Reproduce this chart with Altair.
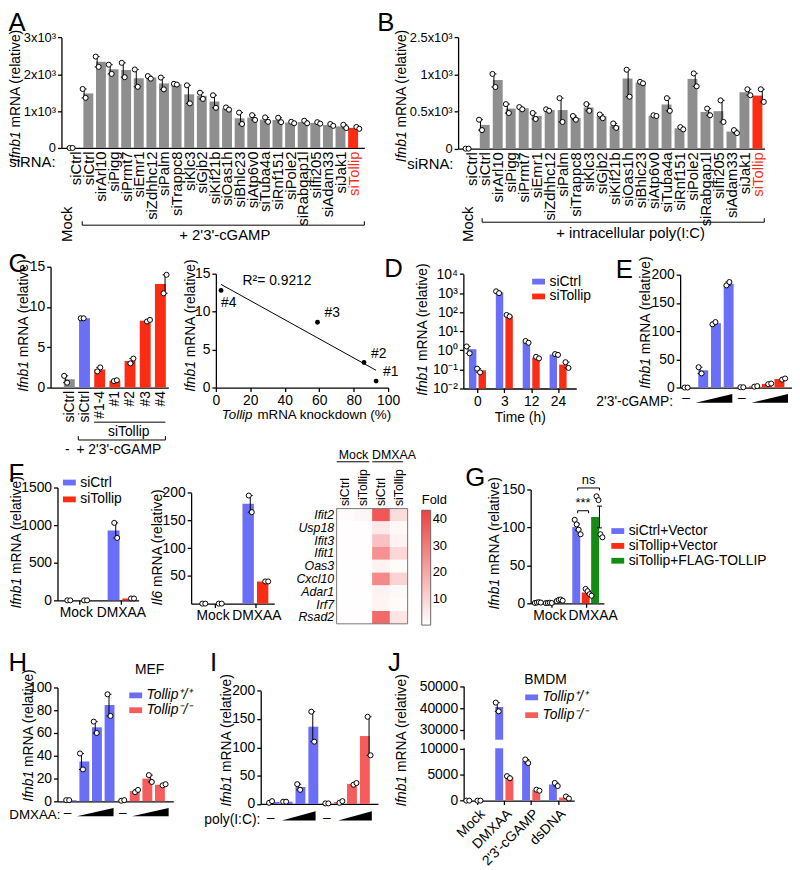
import json
import altair as alt
import pandas as pd

FONT = "Liberation Sans"
W, H = 792, 862
MARGIN = 8

BLUE = "#6b6ff5"
RED = "#fb2c14"
RED_LT = "#f65c5c"
GREEN = "#148c14"
GRAY = "#8e8e8e"
HEAT = ["#ffffff", "#ef3f3f"]
SWATCH = "M-1,-0.45L1,-0.45L1,0.45L-1,0.45Z"

# ---------------- data ----------------
# A: + 2'3'-cGAMP screen
a_names = ["siCtrl", "siCtrl", "sirArl10", "siPigg", "siPrmt7", "siEmr1", "siZdhhc12", "siPalm",
           "siTrappc8", "siKlc3", "siGjb2", "siKif21b", "siOas1h", "siBhlc23", "siAtp6v0", "siTuba4a",
           "siRnf151", "siPole2", "siRabgap1l", "siIfi205", "siAdam33", "siJak1", "siTollip"]
a_rep1 = [0, 1600, 2480, 2260, 2310, 2130, 1950, 1910, 1740, 1700, 1500, 1430, 1100, 960, 890, 830,
          820, 710, 740, 700, 650, 630, 570]
a_rep2 = [0, 1360, 2200, 2010, 1920, 1660, 1880, 1590, 1720, 1210, 1330, 1090, 1040, 650, 760, 710,
          700, 670, 670, 660, 600, 540, 520]
# B: + intracellular poly(I:C)
b_rep1 = [0, 390, 1020, 600, 560, 480, 530, 680, 440, 600, 460, 340, 1190, 900, 450, 680, 290, 1040,
          540, 650, 250, 800, 800]
b_rep2 = [0, 250, 830, 480, 530, 400, 510, 360, 390, 510, 410, 280, 700, 880, 440, 510, 260, 840,
          450, 360, 210, 720, 630]
# C
c_names = ["siCtrl", "siCtrl", "#1-4", "#1", "#2", "#3", "#4"]
c_rep1 = [1.45, 8.6, 2.0, 0.8, 3.0, 8.2, 11.7]
c_rep2 = [0.6, 8.6, 2.5, 0.9, 3.6, 8.4, 14.0]
kd_labels = ["#1", "#2", "#3", "#4"]
kd_pct = [93, 86, 59, 3]
kd_ifnb = [0.85, 3.3, 8.6, 12.8]
# D
d_times = ["0", "3", "12", "24"]
d_ctrl = [[1.6, 1250, 3.1, 0.64], [0.7, 1000, 2.5, 0.58]]
d_toll = [[0.11, 72, 0.46, 0.24], [0.07, 60, 0.38, 0.12]]
# E
e_ctrl = [[0, 36, 112, 181], [0, 25, 116, 187]]
e_toll = [[0.5, 1.5, 6, 14], [0.5, 2.5, 7, 16]]
# F
f_groups = ["Mock", "DMXAA"]
f_series = ["siCtrl", "siTollip"]
f1_ctrl = [[0, 1030], [0, 830]]
f1_toll = [[0, 25], [0, 25]]
f2_ctrl = [[0, 195], [0, 165]]
f2_toll = [[0, 40], [0, 40]]
hm_genes = ["Ifit2", "Usp18", "Ifit3", "Ifit1", "Oas3", "Cxcl10", "Adar1", "Irf7", "Rsad2"]
hm_cols = ["siCtrl", "siTollip", "siCtrl", "siTollip"]
hm_fold = [[1.0, 2.0, 38, 8], [0.5, 0.5, 5, 1.5], [0.5, 0.5, 14, 3], [0.5, 0.5, 25, 9], [0.3, 0.3, 3, 1],
           [0.5, 0.5, 27, 10], [0.3, 0.3, 3, 1.5], [0.3, 0.3, 2.5, 1], [0.5, 0.5, 34, 6]]
# G
g_series = ["siCtrl+Vector", "siTollip+Vector", "siTollip+FLAG-TOLLIP"]
g_ctrl = [[0.5, 110], [1.0, 104], [1.5, 97], [1.0, 91]]
g_toll = [[0.3, 19], [0.5, 16], [0.8, 12], [0.4, 10]]
g_flag = [[3, 141], [4.5, 136], [5, 91], [3.5, 87]]
g_sig = ["***", "ns"]
g_sig_y = [122, 152]
# H, I, J
geno = ["Tollip⁺/⁺", "Tollip⁻/⁻"]
h_wt = [[1, 42, 70, 94], [1, 28, 60, 75]]
h_ko = [[0.5, 8, 23, 14], [1, 10, 17, 15]]
i_wt = [[2, 4, 35, 163], [5, 4, 25, 110]]
i_ko = [[1, 2, 34, 154], [1, 5, 37, 86]]
j_groups = ["Mock", "DMXAA", "2'3'-cGAMP", "dsDNA"]
j_wt = [[0, 42500, 7900, 3400], [0, 38500, 7200, 2800]]
j_ko = [[0, 4700, 2100, 800], [0, 4300, 1900, 400]]

# ---------------- helpers ----------------
CW = {" ": 278, "(": 333, ")": 333, "%": 889, "'": 191, "-": 333, "+": 584, ":": 278,
      "A": 667, "F": 611, "I": 278, "M": 833, "N": 722, "R": 722, "T": 611,
      "a": 556, "b": 556, "c": 500, "d": 556, "e": 556, "f": 278, "i": 222, "k": 500, "l": 222,
      "n": 556, "o": 556, "p": 556, "r": 333, "t": 278, "v": 500, "w": 722}

AX = dict(labelFontSize=14, labelFont=FONT, labelColor="black", domainColor="black", domainWidth=1.3,
          tickColor="black", tickWidth=1.3, tickSize=4, labelPadding=2, labelOverlap=False,
          labelFlush=False, labelBound=False, grid=False, titleFont=FONT, titleFontSize=14,
          titleFontWeight="normal", titleColor="black")


def tw(s, size):
    return sum(CW.get(ch, 556) for ch in s) * size / 1000.0


def P(v):
    return v - MARGIN


def names_expr(names):
    return f"{json.dumps(names)}[round(datum.value)]"


def xaxis(y_page, **kw):
    opts = dict(AX)
    opts["title"] = None
    opts.update(kw)
    return alt.Axis(orient="bottom", offset=P(y_page) - H, **opts)


def yaxis(x_page, **kw):
    opts = dict(AX)
    opts["title"] = None
    opts["format"] = "d"
    opts.update(kw)
    return alt.Axis(orient="left", offset=-P(x_page), **opts)


def lin(dom, rng):
    return alt.Scale(domain=dom, range=[P(v) for v in rng], nice=False, zero=False)


def long_df(defs):
    rows = []
    for name, positions, reps in defs:
        for r, vals in enumerate(reps):
            for p, v in zip(positions, vals):
                rows.append({"pos": p, "series": name, "value": v, "rep": r})
    return pd.DataFrame(rows)


def legend(x, y, rowpad=1, italic=False):
    return alt.Legend(orient="none", legendX=P(x), legendY=P(y), title=None, symbolType=SWATCH,
                      symbolSize=169, symbolStrokeWidth=0, labelFontSize=14, labelFont=FONT,
                      labelColor="black", rowPadding=rowpad, labelOffset=4, padding=0,
                      labelFontStyle="italic" if italic else "normal")


def bar_layers(df, xs, ys, xax, yax, cdom, crng, bar_w, xdom, xpage, leg=None, ybase=None,
               jit_px=3.0, pt=26):
    ppu = (xpage[1] - xpage[0]) / (xdom[1] - xdom[0])
    d = df.copy()
    n = d.groupby("pos")["rep"].transform("max") + 1
    d["px"] = d["pos"] + (d["rep"] - (n - 1) / 2) * (jit_px / ppu)
    base = alt.Chart(d)
    bars = base.transform_aggregate(m="mean(value)", groupby=["pos", "series"]).mark_bar(size=bar_w).encode(
        x=alt.X("pos:Q", scale=xs, axis=xax),
        y=alt.Y("m:Q", scale=ys, axis=yax, stack=None),
        color=alt.Color("series:N", scale=alt.Scale(domain=cdom, range=crng), legend=leg),
    )
    if ybase is not None:
        bars = bars.encode(y2=alt.datum(ybase))
    err = base.transform_aggregate(m="mean(value)", s="stderr(value)", groupby=["pos"]).transform_calculate(
        lo="datum.m - datum.s", hi="datum.m + datum.s")
    X0 = alt.X("pos:Q", scale=xs, axis=None)
    rule = err.mark_rule(color="black", strokeWidth=1).encode(
        x=X0, y=alt.Y("lo:Q", scale=ys, axis=None), y2="hi:Q")
    caps = err.transform_fold(["lo", "hi"], as_=["k", "v"]).mark_point(
        shape="M-1,0L1,0", size=25, color="black", filled=False, strokeWidth=1, opacity=1).encode(
        x=X0, y=alt.Y("v:Q", scale=ys, axis=None))
    pts = base.mark_point(shape="circle", size=pt, fill="white", stroke="black", strokeWidth=1,
                          opacity=1, fillOpacity=1).encode(
        x=alt.X("px:Q", scale=xs, axis=None), y=alt.Y("value:Q", scale=ys, axis=None))
    return [bars, rule, caps, pts]


def dose_layers(xs, dash_pos, wedge_pos, y_dash, y_wedge, w_px, h_px):
    r = h_px / w_px
    dash = alt.Chart(pd.DataFrame({"pos": dash_pos, "t": ["–"] * len(dash_pos)})).mark_text(
        fontSize=14, color="black").encode(
        x=alt.X("pos:Q", scale=xs, axis=None), y=alt.value(P(y_dash)), text="t:N")
    wedge = alt.Chart(pd.DataFrame({"pos": wedge_pos})).mark_point(
        shape=f"M-1,{r:.3f}L1,{r:.3f}L1,{-r:.3f}Z", size=w_px ** 2, filled=True, color="black",
        opacity=1, strokeWidth=0).encode(x=alt.X("pos:Q", scale=xs, axis=None), y=alt.value(P(y_wedge)))
    return [dash, wedge]


ANN = []


def txt(s, x, y, size=14, align="center", baseline="middle", angle=0, italic=False, color="black"):
    kw = dict(align=align, baseline=baseline, fontSize=size, color=color, font=FONT,
              fontStyle="italic" if italic else "normal")
    if angle:
        kw["angle"] = angle
    ANN.append(alt.Chart(pd.DataFrame({"t": [s]})).mark_text(**kw).encode(
        x=alt.value(P(x)), y=alt.value(P(y)), text="t:N"))


def seg(x1, y1, x2, y2, w=1):
    ANN.append(alt.Chart(pd.DataFrame({"t": [0]})).mark_rule(color="black", strokeWidth=w).encode(
        x=alt.value(P(x1)), y=alt.value(P(y1)), x2=alt.value(P(x2)), y2=alt.value(P(y2))))


def ytitle(parts, xc, yc, size=14):
    widths = [tw(t, size) for t, _ in parts]
    sp = tw(" ", size)
    total = sum(widths) + sp * (len(parts) - 1)
    y = yc + total / 2
    for (t, it), w in zip(parts, widths):
        txt(t, xc, y, size=size, align="left", angle=270, italic=it)
        y -= w + sp


def xtitle(parts, xc, yc, size=14):
    widths = [tw(t, size) for t, _ in parts]
    sp = tw(" ", size)
    total = sum(widths) + sp * (len(parts) - 1)
    x = xc - total / 2
    for (t, it), w in zip(parts, widths):
        txt(t, x, yc, size=size, align="left", italic=it)
        x += w + sp


IFNB = [("Ifnb1", True), ("mRNA (relative)", False)]
SCI = "datum.value == 0 ? '0' : (datum.value / 1000) + 'x10³'"
PANELS = []

# ---------------- A ----------------
xd, xp = [-0.74, 22.5], [62, 368]
xs, ys = lin(xd, xp), lin([0, 3000], [145, 33.3])
n_a = len(a_names)
df = long_df([("ctrl", list(range(n_a - 1)), [a_rep1[:-1], a_rep2[:-1]]),
              ("hit", [n_a - 1], [a_rep1[-1:], a_rep2[-1:]])])
xax = xaxis(145, values=list(range(n_a)), labelExpr=names_expr(a_names), labelAngle=-90,
            labelAlign="right", labelBaseline="middle", ticks=False, labelPadding=3, labelFontSize=15,
            labelColor={"condition": {"test": f"datum.value == {n_a - 1}", "value": RED}, "value": "black"})
yax = yaxis(62, values=[0, 1000, 2000, 3000], labelExpr=SCI, labelFontSize=13)
PANELS += bar_layers(df, xs, ys, xax, yax, ["ctrl", "hit"], [GRAY, RED], 10, xd, xp)

# ---------------- B ----------------
xd, xp = [-0.67, 22.17], [462.7, 772.3]
xs = lin(xd, xp)
ys = lin([0, 1000, 2500], [145.7, 70.7, 33.3])
df = long_df([("ctrl", list(range(n_a - 1)), [b_rep1[:-1], b_rep2[:-1]]),
              ("hit", [n_a - 1], [b_rep1[-1:], b_rep2[-1:]])])
xax = xaxis(145.7, values=list(range(n_a)), labelExpr=names_expr(a_names), labelAngle=-90,
            labelAlign="right", labelBaseline="middle", ticks=False, labelPadding=3, labelFontSize=15,
            labelColor={"condition": {"test": f"datum.value == {n_a - 1}", "value": RED}, "value": "black"})
yax = yaxis(462.7, values=[0, 500, 1000, 2500], labelExpr=SCI, labelFontSize=13)
PANELS += bar_layers(df, xs, ys, xax, yax, ["ctrl", "hit"], [GRAY, RED], 10, xd, xp)

# ---------------- C (bars) ----------------
xd, xp = [-0.91, 6.2], [51, 170]
xs, ys = lin(xd, xp), lin([0, 15], [387, 265])
df = long_df([("mock", [0], [c_rep1[:1], c_rep2[:1]]), ("ctrl", [1], [c_rep1[1:2], c_rep2[1:2]]),
              ("kd", [2, 3, 4, 5, 6], [c_rep1[2:], c_rep2[2:]])])
xax = xaxis(387, values=list(range(len(c_names))), labelExpr=names_expr(c_names), labelAngle=-90,
            labelAlign="right", labelBaseline="middle", ticks=False, labelPadding=3)
yax = yaxis(51, values=[0, 5, 10, 15])
PANELS += bar_layers(df, xs, ys, xax, yax, ["mock", "ctrl", "kd"], [GRAY, BLUE, RED], 11, xd, xp)

# ---------------- C (scatter) ----------------
xs, ys = lin([0, 100], [218, 392]), lin([0, 15], [387, 272])
kd_df = pd.DataFrame({"kd": kd_pct, "val": kd_ifnb, "lab": kd_labels})
reg = alt.Chart(kd_df).transform_regression("kd", "val").mark_line(color="black", strokeWidth=1).encode(
    x=alt.X("kd:Q", scale=xs, axis=xaxis(387, values=[0, 20, 40, 60, 80, 100])),
    y=alt.Y("val:Q", scale=ys, axis=yaxis(218, values=[0, 5, 10, 15])))
kd_pts = alt.Chart(kd_df).mark_circle(size=24, color="black", opacity=1).encode(
    x=alt.X("kd:Q", scale=xs, axis=None), y=alt.Y("val:Q", scale=ys, axis=None))
kd_lab_hi = alt.Chart(kd_df).transform_filter("datum.kd > 10").mark_text(
    align="left", fontSize=14, font=FONT, dx=7, dy=-9).encode(
    x=alt.X("kd:Q", scale=xs, axis=None), y=alt.Y("val:Q", scale=ys, axis=None), text="lab:N")
kd_lab_lo = alt.Chart(kd_df).transform_filter("datum.kd <= 10").mark_text(
    align="left", fontSize=14, font=FONT, dx=0, dy=13).encode(
    x=alt.X("kd:Q", scale=xs, axis=None), y=alt.Y("val:Q", scale=ys, axis=None), text="lab:N")
PANELS += [reg, kd_pts, kd_lab_hi, kd_lab_lo]

# ---------------- D ----------------
xd, xp = [-0.34, 3.49], [468, 582]
xs = lin(xd, xp)
ys = alt.Scale(type="log", domain=[0.01, 10000], range=[P(388), P(272.4)], nice=False)
off = 0.178
df = long_df([("siCtrl", [g - off for g in range(4)], d_ctrl), ("siTollip", [g + off for g in range(4)], d_toll)])
xax = xaxis(388, values=[0, 1, 2, 3], labelExpr=names_expr(d_times), title="Time (h)", titlePadding=2)
yax = yaxis(468, values=[0.01, 0.1, 1, 10, 100, 1000, 10000],
            labelExpr="'10' + ['⁻²','⁻¹','⁰','¹','²','³','⁴'][round(log(datum.value) / LN10) + 2]")
PANELS += bar_layers(df, xs, ys, xax, yax, f_series, [BLUE, RED], 7.5, xd, xp,
                     leg=legend(537, 273), ybase=0.01)

# ---------------- E ----------------
xd, xp = [-0.43, 7.6], [687, 800]
xs, ys = lin(xd, xp), lin([0, 200], [387, 273])
df = long_df([("siCtrl", [0, 1, 2, 3], e_ctrl), ("siTollip", [4, 5, 6, 7], e_toll)])
xax = xaxis(387, labels=False, ticks=False)
yax = yaxis(687, values=[0, 50, 100, 150, 200])
PANELS += bar_layers(df, xs, ys, xax, yax, f_series, [BLUE, RED], 10, xd, xp)
PANELS += dose_layers(xs, [0, 4], [2, 6], 398, 398, 37, 9)

# ---------------- F (Ifnb1) ----------------
xd, xp = [-0.42, 1.31], [58, 140]
xs, ys = lin(xd, xp), lin([0, 1500], [602, 488])
off = 0.179
df = long_df([("siCtrl", [-off, 1 - off], f1_ctrl), ("siTollip", [off, 1 + off], f1_toll)])
xax = xaxis(602, values=[0, 1], labelExpr=names_expr(f_groups), labelPadding=1,
            labelOffset={"condition": {"test": "datum.value == 0", "value": -4}, "value": 0})
yax = yaxis(58, values=[0, 500, 1000, 1500])
PANELS += bar_layers(df, xs, ys, xax, yax, f_series, [BLUE, RED], 12, xd, xp,
                     leg=legend(63, 476, rowpad=3))

# ---------------- F (Il6) ----------------
xd, xp = [-0.45, 1.34], [193, 277]
xs, ys = lin(xd, xp), lin([0, 200], [605.3, 493.3])
off = 0.177
df = long_df([("siCtrl", [-off, 1 - off], f2_ctrl), ("siTollip", [off, 1 + off], f2_toll)])
xax = xaxis(605.3, values=[0, 1], labelExpr=names_expr(f_groups), labelPadding=1,
            labelOffset={"condition": {"test": "datum.value == 0", "value": -2}, "value": 1})
yax = yaxis(193, values=[50, 100, 150, 200])
PANELS += bar_layers(df, xs, ys, xax, yax, f_series, [BLUE, RED], 11.5, xd, xp)

# ---------------- F (heatmap) ----------------
hm_rows = []
for gi, g in enumerate(hm_genes):
    for ci in range(len(hm_cols)):
        hm_rows.append({"gene": g, "col": str(ci), "fold": hm_fold[gi][ci]})
hm_df = pd.DataFrame(hm_rows)
hx = alt.Scale(domain=[str(i) for i in range(len(hm_cols))], range=[P(340), P(411.7)],
               paddingInner=0, paddingOuter=0)
hy = alt.Scale(domain=hm_genes, range=[P(509.3), P(625.7)], paddingInner=0, paddingOuter=0)
heat = alt.Chart(hm_df).mark_rect().encode(
    x=alt.X("col:O", scale=hx, axis=alt.Axis(
        orient="top", offset=-P(509.3), labelExpr=f"{json.dumps(hm_cols)}[toNumber(datum.value)]",
        labelAngle=-90, labelAlign="left", labelBaseline="middle", ticks=False, domain=False,
        labelFontSize=12.5, labelFont=FONT, labelColor="black", labelPadding=3, title=None)),
    y=alt.Y("gene:N", scale=hy, axis=alt.Axis(
        orient="left", offset=-P(340), ticks=False, domain=False, labelFontStyle="italic",
        labelFontSize=12.5, labelFont=FONT, labelColor="black", labelPadding=3, title=None)),
    color=alt.Color("fold:Q", scale=alt.Scale(domain=[0, 43.5], range=HEAT, interpolate="rgb"),
                    legend=alt.Legend(
        orient="none", legendX=P(426), legendY=P(495), title="Fold", direction="vertical",
        gradientLength=116, gradientThickness=9, values=[10, 20, 30, 40], titleFontSize=13,
        titleFont=FONT, titleColor="black", labelFont=FONT, labelColor="black",
        titleFontWeight="normal", labelFontSize=13, gradientStrokeColor="#666",
        gradientStrokeWidth=1, titlePadding=3, padding=0)),
)
PANELS.append(heat)

# ---------------- G ----------------
xd, xp = [-0.455, 1.386], [536, 610]
xs, ys = lin(xd, xp), lin([0, 150], [605, 490])
off = 0.274
df = long_df([(g_series[0], [-off, 1 - off], g_ctrl), (g_series[1], [0, 1], g_toll),
              (g_series[2], [off, 1 + off], g_flag)])
xax = xaxis(605, values=[0, 1], labelExpr=names_expr(f_groups), labelPadding=1,
            labelOffset={"condition": {"test": "datum.value == 1", "value": 7}, "value": -2})
yax = yaxis(536, values=[0, 50, 100, 150])
PANELS += bar_layers(df, xs, ys, xax, yax, g_series, [BLUE, RED, GREEN], 8, xd, xp,
                     leg=legend(617, 525), jit_px=2.0)
tick_u = 2.5 * 150 / (605 - 490)
br = pd.DataFrame({"x1": [1 - off, 1 - off], "x2": [1, 1 + off], "yv": g_sig_y, "lab": g_sig})
br["xm"] = (br["x1"] + br["x2"]) / 2
br["yl"] = br["yv"] - tick_u
PANELS.append(alt.Chart(br).mark_rule(color="black", strokeWidth=1).encode(
    x=alt.X("x1:Q", scale=xs, axis=None), x2="x2:Q", y=alt.Y("yv:Q", scale=ys, axis=None)))
PANELS.append(alt.Chart(br).transform_fold(["x1", "x2"], as_=["k", "xe"]).mark_rule(
    color="black", strokeWidth=1).encode(
    x=alt.X("xe:Q", scale=xs, axis=None), y=alt.Y("yv:Q", scale=ys, axis=None), y2="yl:Q"))
PANELS.append(alt.Chart(br).mark_text(fontSize=13, font=FONT, baseline="bottom", dy=-1).encode(
    x=alt.X("xm:Q", scale=xs, axis=None), y=alt.Y("yv:Q", scale=ys, axis=None), text="lab:N"))

# ---------------- H ----------------
xd, xp = [-0.74, 7.67], [58, 175]
xs, ys = lin(xd, xp), lin([0, 100], [805, 690])
df = long_df([(geno[0], [0, 1, 2, 3], h_wt), (geno[1], [4, 5, 6, 7], h_ko)])
xax = xaxis(805, labels=False, ticks=False)
yax = yaxis(58, values=[0, 20, 40, 60, 80, 100])
PANELS += bar_layers(df, xs, ys, xax, yax, geno, [BLUE, RED_LT], 10, xd, xp,
                     leg=legend(130, 691, italic=True))
PANELS += dose_layers(xs, [0, 4], [2, 6], 817, 816, 37, 8.3)

# ---------------- I ----------------
xd, xp = [-0.7, 7.63], [263.3, 381.7]
xs, ys = lin(xd, xp), lin([0, 200], [807.7, 693.3])
df = long_df([(geno[0], [0, 1, 2, 3], i_wt), (geno[1], [4, 5, 6, 7], i_ko)])
xax = xaxis(807.7, labels=False, ticks=False)
yax = yaxis(263.3, values=[0, 50, 100, 150, 200])
PANELS += bar_layers(df, xs, ys, xax, yax, geno, [BLUE, RED_LT], 10, xd, xp)
PANELS += dose_layers(xs, [0, 4], [2, 6], 822, 819.7, 34, 9.3)

# ---------------- J ----------------
xd, xp = [-0.33, 3.42], [468.3, 580]
xs = lin(xd, xp)
ys = lin([0, 10000, 25500, 50000], [804.3, 751.7, 742.7, 688.8])
off = 0.19
df = long_df([(geno[0], [g - off for g in range(4)], j_wt), (geno[1], [g + off for g in range(4)], j_ko)])
xax = xaxis(804.3, values=[0, 1, 2, 3], labelExpr=names_expr(j_groups), labelAngle=-45,
            labelAlign="right", labelBaseline="top", labelPadding=2, labelFontSize=14)
yax = yaxis(468.3, values=[0, 5000, 10000, 30000, 40000, 50000])
PANELS += bar_layers(df, xs, ys, xax, yax, geno, [BLUE, RED_LT], 8, xd, xp,
                     leg=legend(530, 693, rowpad=4, italic=True))
PANELS.append(alt.Chart(pd.DataFrame({"a": [10300], "b": [25400]})).mark_rect(color="white", opacity=1).encode(
    x=alt.value(P(466)), x2=alt.value(P(520)), y=alt.Y("a:Q", scale=ys, axis=None), y2="b:Q"))

# ---------------- annotations ----------------
for letter, x, y in [("A", 8.5, 27), ("B", 381, 27), ("C", 8.5, 270), ("D", 388, 275), ("E", 622, 276),
                     ("F", 8.5, 482), ("G", 470, 486), ("H", 8.5, 673), ("I", 212, 673), ("J", 392, 673)]:
    txt(letter, x, y, size=26, align="left", baseline="alphabetic")

# A
ytitle(IFNB, 16.5, 94)
txt("siRNA:", 56, 159, size=15, align="right")
txt("Mock", 68, 222, size=15, angle=270)
seg(83, 223, 368, 223)
seg(83, 219, 83, 223)
seg(368, 219, 368, 223)
txt("+ 2'3'-cGAMP", 227, 233, size=15)
# B
ytitle(IFNB, 406, 94)
txt("siRNA:", 458, 161, size=15, align="right")
txt("Mock", 473, 222, size=15, angle=270)
seg(487, 220, 772, 220)
seg(487, 216, 487, 220)
seg(772, 216, 772, 220)
txt("+ intracellular poly(I:C)", 637, 231, size=15)
# C
ytitle(IFNB, 24, 326)
seg(95, 422, 167, 422)
txt("siTollip", 130, 432)
seg(79, 440, 167, 440)
seg(79, 436, 79, 440)
seg(167, 436, 167, 440)
txt("-", 68, 450)
txt("+ 2'3'-cGAMP", 120, 450)
ytitle(IFNB, 193, 326)
xtitle([("Tollip", True), ("mRNA knockdown (%)", False)], 308, 415, size=13.5)
txt("R²= 0.9212", 245, 279, align="left")
# D, E
ytitle(IFNB, 427, 330)
ytitle(IFNB, 653, 323)
txt("2'3'-cGAMP:", 680, 402, align="right")
# F
ytitle(IFNB, 17, 545)
ytitle([("Il6", True), ("mRNA (relative)", False)], 160, 550)
txt("Mock", 357, 455, size=12.5)
txt("DMXAA", 398, 455, size=12.5)
seg(340, 462, 373, 462)
seg(376, 462, 407, 462)
ANN.append(alt.Chart(pd.DataFrame({"t": [0]})).mark_rect(fill="transparent", stroke="#777", strokeWidth=1).encode(
    x=alt.value(P(340)), x2=alt.value(P(411.7)), y=alt.value(P(509.3)), y2=alt.value(P(625.7))))
# G
ytitle(IFNB, 500, 546)
# H, I, J
ytitle(IFNB, 29, 740)
txt("MEF", 151, 672)
txt("DMXAA:", 61, 819, size=13.5, align="right")
ytitle(IFNB, 229, 745)
txt("poly(I:C):", 263, 824, align="right")
ytitle(IFNB, 406, 745)
txt("BMDM", 551, 683)

chart = alt.layer(*PANELS, *ANN).resolve_scale(
    x="independent", y="independent", color="independent"
).properties(
    width=W, height=H, autosize=alt.AutoSizeParams(type="none"), padding=0
).configure(
    font=FONT
).configure_axis(
    grid=False, labelFont=FONT, titleFont=FONT, labelFontSize=14, labelColor="black"
).configure_legend(
    labelFont=FONT, titleFont=FONT, labelColor="black", titleColor="black"
).configure_view(stroke=None)

chart.save("out.html", embed_options={"renderer": "svg", "actions": False})
